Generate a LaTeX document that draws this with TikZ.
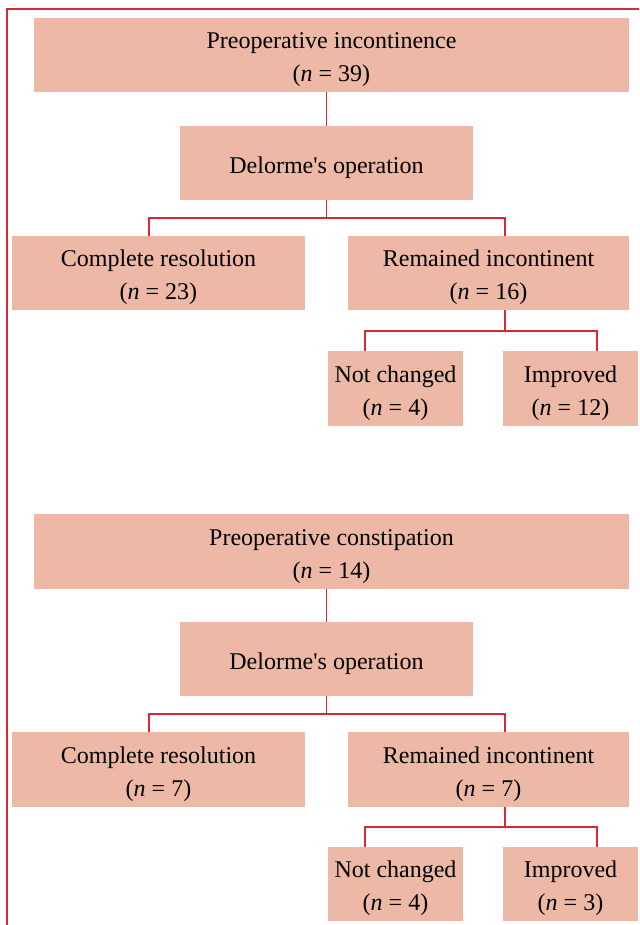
\documentclass[tikz,border=0pt]{standalone}
\usepackage{fontspec}
\setmainfont{Liberation Serif}[Ligatures=TeXOff]
\definecolor{boxfill}{HTML}{EDB8A6}
\definecolor{linered}{HTML}{D62A35}
\newcommand{\tstrut}{\rule{0pt}{25.5pt}}
\begin{document}
\begin{tikzpicture}[x=1pt,y=-1pt,
  box/.style={fill=boxfill, draw=none, inner sep=0pt, align=center,
    font=\fontsize{24}{33}\selectfont},
  conn/.style={draw=linered, line width=1.6pt},
  frame/.style={draw=linered, line width=2pt}]
\useasboundingbox (0,0) rectangle (639,925);
% frame
\coordinate (ftl) at (7,9);
\coordinate (ftr) at (639,9);
\coordinate (fbl) at (7,925);
\draw[frame] (ftr) -- (ftl) -- (fbl);

% ---------- upper tree ----------
\node[box, minimum width=595pt, minimum height=74pt] (a1) at (331.5,55)
  {\tstrut Preoperative incontinence\\(\textit{n} = 39)};
\node[box, minimum width=293pt, minimum height=74pt] (a2) at (326.5,163)
  {\tstrut Delorme's operation};
\node[box, minimum width=293pt, minimum height=74pt] (a3) at (158.5,273)
  {\tstrut Complete resolution\\(\textit{n} = 23)};
\node[box, minimum width=281pt, minimum height=74pt] (a4) at (488.5,273)
  {\tstrut Remained incontinent\\(\textit{n} = 16)};
\node[box, minimum width=135pt, minimum height=75pt] (a5) at (395.5,388.5)
  {\tstrut Not changed\\(\textit{n} = 4)};
\node[box, minimum width=135pt, minimum height=75pt] (a6) at (570.5,388.5)
  {\tstrut Improved\\(\textit{n} = 12)};
\coordinate (a3t) at (149,236);
\coordinate (a4t) at (505,236);
\coordinate (a4b) at (505,310);
\coordinate (a5t) at (365,351);
\coordinate (a6t) at (597,351);
\draw[conn] (a2.north) -- (a2.north |- a1.south);
\draw[conn] (a2.south) -- ++(0,18) -| (a3t);
\draw[conn] (a2.south) -- ++(0,18) -| (a4t);
\draw[conn] (a4b) -- ++(0,21) -| (a5t);
\draw[conn] (a4b) -- ++(0,21) -| (a6t);

% ---------- lower tree ----------
\node[box, minimum width=595pt, minimum height=75pt] (b1) at (331.5,551.5)
  {\tstrut Preoperative constipation\\(\textit{n} = 14)};
\node[box, minimum width=293pt, minimum height=74pt] (b2) at (326.5,659)
  {\tstrut Delorme's operation};
\node[box, minimum width=293pt, minimum height=75pt] (b3) at (158.5,769.5)
  {\tstrut Complete resolution\\(\textit{n} = 7)};
\node[box, minimum width=281pt, minimum height=75pt] (b4) at (488.5,769.5)
  {\tstrut Remained incontinent\\(\textit{n} = 7)};
\node[box, minimum width=135pt, minimum height=74pt] (b5) at (395.5,884)
  {\tstrut Not changed\\(\textit{n} = 4)};
\node[box, minimum width=135pt, minimum height=74pt] (b6) at (570.5,884)
  {\tstrut Improved\\(\textit{n} = 3)};
\coordinate (b3t) at (149,732);
\coordinate (b4t) at (505,732);
\coordinate (b4b) at (505,807);
\coordinate (b5t) at (365,847);
\coordinate (b6t) at (597,847);
\draw[conn] (b2.north) -- (b2.north |- b1.south);
\draw[conn] (b2.south) -- ++(0,18) -| (b3t);
\draw[conn] (b2.south) -- ++(0,18) -| (b4t);
\draw[conn] (b4b) -- ++(0,20) -| (b5t);
\draw[conn] (b4b) -- ++(0,20) -| (b6t);
\end{tikzpicture}
\end{document}
